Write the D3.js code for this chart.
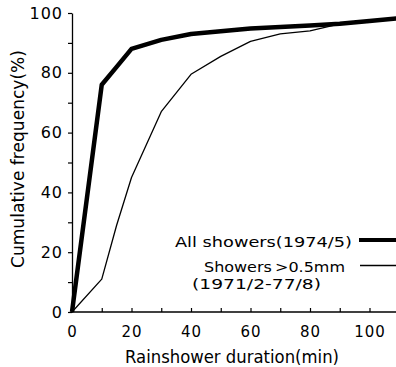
<!DOCTYPE html>
<html>
<head>
<meta charset="utf-8">
<script src="https://cdn.jsdelivr.net/npm/d3@7"></script>
<style>
  body { margin: 0; background: #fff; }
  svg { display: block; }
  text { font-family: "DejaVu Sans", sans-serif; fill: #000; }
</style>
</head>
<body>
<svg id="chart" width="396" height="367"></svg>
<script>
// duracion (min) y frecuencia acumulada (%)
var minutos = [0, 10, 15, 20, 30, 40, 50, 60, 70, 80, 90, 100, 110];
var todos = [0, 76, 82, 88, 91, 93, 93.9, 94.8, 95.3, 95.8, 96.4, 97.3, 98.3];
var mayores05 = [0, 11, 29, 45, 67, 79.5, 85.5, 90.5, 93, 94, 96.4, 97.3, 98.3];
var ticksX = [0, 20, 40, 60, 80, 100];
var ticksY = [0, 20, 40, 60, 80, 100];
var leyenda = ["All showers(1974/5)", "Showers\u202F>0.5mm", "(1971/2-77/8)"];

var svg = d3.select("#chart"),
    width = +svg.attr("width");

var x = d3.scaleLinear().domain([0, 100]).range([72, 369.5]);
var y = d3.scaleLinear().domain([0, 100]).range([312, 13]);

// eje y
var ejeY = svg.append("g")
    .attr("transform", "translate(" + x(0) + ",0)")
    .call(d3.axisLeft(y)
        .tickValues(d3.range(0, 101, 10))
        .tickSizeInner(4)
        .tickSizeOuter(0)
        .tickPadding(5)
        .tickFormat(function(d) { return ticksY.indexOf(d) >= 0 ? d : ""; }));
ejeY.select(".domain").attr("stroke-width", 1.3);
ejeY.selectAll(".tick line").attr("stroke-width", 1.2);
ejeY.selectAll("text").attr("font-size", 16).attr("letter-spacing", 1)
    .attr("font-family", "DejaVu Sans");

// eje x, ticks hacia adentro
var ejeX = svg.append("g")
    .attr("transform", "translate(0," + y(0) + ")")
    .call(d3.axisBottom(x)
        .tickValues(d3.range(0, 101, 10))
        .tickSizeInner(-4)
        .tickSizeOuter(0)
        .tickPadding(14)
        .tickFormat(function(d) { return ticksX.indexOf(d) >= 0 ? d : ""; }));
ejeX.select(".domain").remove();
ejeX.append("line")
    .attr("x1", x(0)).attr("x2", width)
    .attr("stroke", "#000").attr("stroke-width", 1.4);
ejeX.selectAll(".tick line").attr("stroke-width", 1.2);
ejeX.selectAll("text").attr("font-size", 15).attr("letter-spacing", 1)
    .attr("font-family", "DejaVu Sans");

var linea = d3.line()
    .x(function(d) { return x(d[0]); })
    .y(function(d) { return y(d[1]); });

svg.append("path")
    .datum(d3.zip(minutos, mayores05))
    .attr("fill", "none")
    .attr("stroke", "#000")
    .attr("stroke-width", 1.3)
    .attr("stroke-linejoin", "round")
    .attr("d", linea);

svg.append("path")
    .datum(d3.zip(minutos, todos))
    .attr("fill", "none")
    .attr("stroke", "#000")
    .attr("stroke-width", 4.5)
    .attr("stroke-linejoin", "round")
    .attr("d", linea);

// titulos
svg.append("text")
    .attr("x", 125).attr("y", 363)
    .attr("font-size", 17)
    .attr("textLength", 214)
    .attr("lengthAdjust", "spacingAndGlyphs")
    .text("Rainshower duration(min)");

svg.append("text")
    .attr("transform", "translate(24,159) rotate(-90)")
    .attr("text-anchor", "middle")
    .attr("font-size", 18)
    .attr("textLength", 218)
    .attr("lengthAdjust", "spacingAndGlyphs")
    .text("Cumulative frequency(%)");

// leyenda
svg.append("text")
    .attr("x", 175).attr("y", 247)
    .attr("font-size", 14)
    .attr("textLength", 177)
    .attr("lengthAdjust", "spacingAndGlyphs")
    .text(leyenda[0]);
svg.append("line")
    .attr("x1", 359).attr("x2", 396).attr("y1", 240).attr("y2", 240)
    .attr("stroke", "#000").attr("stroke-width", 4);

svg.append("text")
    .attr("x", 204).attr("y", 272)
    .attr("font-size", 14)
    .attr("textLength", 141)
    .attr("lengthAdjust", "spacingAndGlyphs")
    .text(leyenda[1]);
svg.append("text")
    .attr("x", 192).attr("y", 289)
    .attr("font-size", 14)
    .attr("textLength", 129)
    .attr("lengthAdjust", "spacingAndGlyphs")
    .text(leyenda[2]);
svg.append("line")
    .attr("x1", 360).attr("x2", 396).attr("y1", 265.5).attr("y2", 265.5)
    .attr("stroke", "#000").attr("stroke-width", 1.3);
</script>
</body>
</html>
